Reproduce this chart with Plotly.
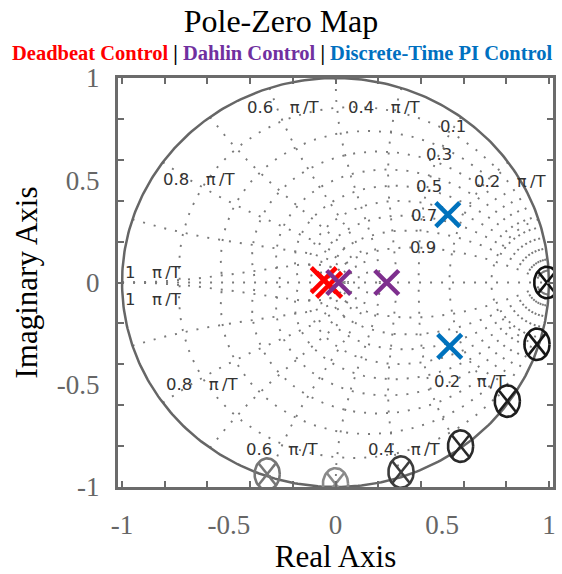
import numpy as np
import plotly.graph_objects as go

# ---- pole / zero data (real, imaginary) ----
deadbeat_re = [-0.055, -0.030]
deadbeat_im = [0.012, -0.012]
dahlin_re = [0.015, 0.240]
dahlin_im = [0.0, 0.0]
pi_ctrl_re = [0.526, 0.535]
pi_ctrl_im = [0.332, -0.312]

zero_re = [0.990, 0.944, 0.805, 0.586, 0.307, 0.000, -0.320]
zero_im = [0.000, -0.302, -0.580, -0.800, -0.927, -0.985, -0.937]
zero_colors = ["#111111", "#161616", "#1e1e1e", "#2a2a2a", "#3c3c3c", "#8a8a8a", "#767676"]

# ---- z-plane grid levels ----
zeta_levels = [0.1, 0.2, 0.3, 0.4, 0.5, 0.6, 0.7, 0.8, 0.9]
wn_levels = [0.1, 0.2, 0.3, 0.4, 0.5, 0.6, 0.7, 0.8, 0.9, 1.0]   # multiples of pi/T

# ---- axis ticks ----
tick_vals = [-1, -0.5, 0, 0.5, 1]
tick_text = ["-1", "-0.5", "0", "0.5", "1"]

GRID = "#7a7a7a"
AXIS = "#6b6b6b"
SERIF = "Liberation Serif"

fig = go.Figure()

# damping-ratio curves  z = exp(theta * (-m + j)),  m = zeta / sqrt(1 - zeta^2)
gx, gy = [], []
theta = np.linspace(0, np.pi, 140)
for zeta in zeta_levels:
    m = zeta / np.sqrt(1 - zeta ** 2)
    z = np.exp(theta * (-m + 1j))
    for sgn in (1, -1):
        gx += list(z.real) + [None]
        gy += list(sgn * z.imag) + [None]

# natural-frequency curves  z = exp(wn * (-zeta + j sqrt(1 - zeta^2)))
zz = np.linspace(0, 1, 120)
for wn in wn_levels:
    w = wn * np.pi
    z = np.exp(w * (-zz + 1j * np.sqrt(1 - zz ** 2)))
    for sgn in (1, -1):
        gx += list(z.real) + [None]
        gy += list(sgn * z.imag) + [None]

# real axis
gx += [-1, 1, None]
gy += [0, 0, None]

fig.add_trace(go.Scatter(x=gx, y=gy, mode="lines", hoverinfo="skip",
                         line=dict(color=GRID, width=1.9, dash="2px,9px"),
                         showlegend=False))

# unit circle
phi = np.linspace(0, 2 * np.pi, 400)
fig.add_trace(go.Scatter(x=np.cos(phi), y=np.sin(phi), mode="lines",
                         line=dict(color="#666666", width=2.5),
                         hoverinfo="skip", showlegend=False))

# zeros: ellipse with a cross inside
A, B = 0.059, 0.077
t = np.linspace(0, 2 * np.pi, 60)
k = np.sqrt(0.5)
for re, im, col in zip(zero_re, zero_im, zero_colors):
    ex = list(re + A * np.cos(t)) + [None, re - k * A, re + k * A, None, re - k * A, re + k * A]
    ey = list(im + B * np.sin(t)) + [None, im + k * B, im - k * B, None, im - k * B, im + k * B]
    fig.add_trace(go.Scatter(x=ex, y=ey, mode="lines",
                             line=dict(color=col, width=2.6),
                             hoverinfo="skip", showlegend=False))


def add_poles(xs, ys, color, name, size=24):
    fig.add_trace(go.Scatter(
        x=xs, y=ys, mode="markers", name=name, showlegend=False,
        marker=dict(symbol="x-thin-open", size=size, color=color,
                    line=dict(color=color, width=4.5)),
        cliponaxis=False))


add_poles(deadbeat_re, deadbeat_im, "#FF0000", "Deadbeat Control", size=25)
add_poles(dahlin_re, dahlin_im, "#7E2F8E", "Dahlin Control")
add_poles(pi_ctrl_re, pi_ctrl_im, "#0072BD", "Discrete-Time PI Control")

# grid labels
sp = "\u2002\u2002"
pt = "π\u2009/T"
grid_labels = [
    ("0.1", 0.549, 0.761), ("0.3", 0.484, 0.624), ("0.5", 0.437, 0.468),
    ("0.7", 0.414, 0.327), ("0.9", 0.409, 0.171),
    ("0.2" + sp + pt, 0.819, 0.493),
    ("0.4" + sp + pt, 0.228, 0.854),
    ("0.6" + sp + pt, -0.242, 0.854),
    ("0.8" + sp + pt, -0.637, 0.502),
    ("1" + sp + pt, -0.851, 0.049),
    ("1" + sp + pt, -0.851, -0.083),
    ("0.8" + sp + pt, -0.623, -0.498),
    ("0.6" + sp + pt, -0.247, -0.815),
    ("0.4" + sp + pt, 0.321, -0.815),
    ("0.2" + sp + pt, 0.633, -0.483),
]
annotations = []
for txt, x, y in grid_labels:
    annotations.append(dict(x=x, y=y, xref="x", yref="y", text=txt, showarrow=False,
                            xanchor="center", yanchor="middle",
                            font=dict(family="DejaVu Sans", size=16.5, color="#333333")))

W, H = 562, 574
L, R, T, Bm = 118, 6, 78, 86
pw, ph = W - L - R, H - T - Bm

# subtitle naming the three controllers
subtitle = ("<b><span style='color:#FF0000'>Deadbeat Control</span>"
            "<span style='color:#000000'> | </span>"
            "<span style='color:#7030A0'>Dahlin Control</span>"
            "<span style='color:#000000'> | </span>"
            "<span style='color:#0070C0'>Discrete-Time PI Control</span></b>")
annotations.append(dict(x=(283 - L) / pw, y=(H - Bm - 53) / ph,
                        xref="paper", yref="paper", text=subtitle,
                        showarrow=False, xanchor="center", yanchor="middle",
                        font=dict(family=SERIF, size=20.5)))

axis_common = dict(
    showline=True, linecolor=AXIS, linewidth=3, mirror="ticks",
    showgrid=False, zeroline=False,
    tickvals=tick_vals, ticktext=tick_text, ticks="inside", ticklen=0,
    tickfont=dict(family=SERIF, size=27, color="#666666"),
    minor=dict(dtick=0.2, tick0=0, ticks="inside", ticklen=6, tickwidth=2, tickcolor=AXIS),
)

fig.update_layout(
    width=W, height=H,
    margin=dict(l=L, r=R, t=T, b=Bm),
    paper_bgcolor="white", plot_bgcolor="white",
    title=dict(text="Pole-Zero Map", x=0.5, xref="container", xanchor="center",
               y=1 - 21 / H, yref="container", yanchor="middle",
               font=dict(family=SERIF, size=32, color="black")),
    xaxis=dict(range=[-1.019, 1.019], ticklabelstandoff=12,
               title=dict(text="Real Axis", standoff=6,
                          font=dict(family=SERIF, size=31, color="black")),
               **axis_common),
    yaxis=dict(range=[-1.0, 1.0], ticklabelstandoff=10,
               title=dict(text="Imaginary Axis", standoff=10,
                          font=dict(family=SERIF, size=31, color="black")),
               **axis_common),
    annotations=annotations,
    showlegend=False,
)

fig.write_html("out.html")
